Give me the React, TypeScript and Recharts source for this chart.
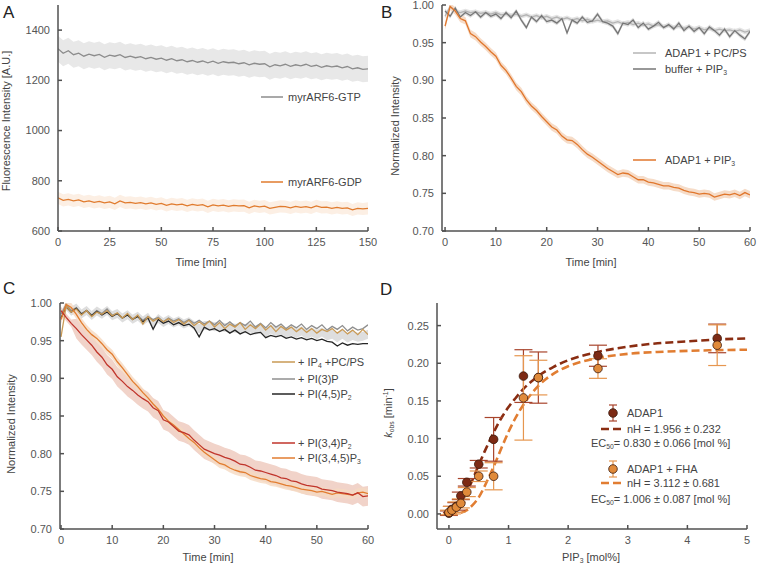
import React from 'react';
import { ComposedChart, Line, Area, Scatter, ErrorBar, XAxis, YAxis } from 'recharts';

const FONT = '"Liberation Sans", Arial, Helvetica, sans-serif';
const AXIS = '#505050';
const TICK_TEXT = '#555';

// ---------- panel A (0..150 min, every 2.5 min) ----------
const timesA = [0, 2.5, 5, 7.5, 10, 12.5, 15, 17.5, 20, 22.5, 25, 27.5, 30, 32.5, 35, 37.5, 40, 42.5, 45, 47.5, 50, 52.5, 55, 57.5, 60, 62.5, 65, 67.5, 70, 72.5, 75, 77.5, 80, 82.5, 85, 87.5, 90, 92.5, 95, 97.5, 100, 102.5, 105, 107.5, 110, 112.5, 115, 117.5, 120, 122.5, 125, 127.5, 130, 132.5, 135, 137.5, 140, 142.5, 145, 147.5, 150];
const gtp = [1326, 1308, 1318, 1302, 1308, 1296, 1304, 1298, 1303, 1292, 1300, 1296, 1302, 1291, 1296, 1290, 1294, 1286, 1291, 1284, 1288, 1280, 1286, 1278, 1282, 1274, 1279, 1272, 1277, 1270, 1276, 1268, 1274, 1270, 1272, 1266, 1270, 1262, 1268, 1264, 1266, 1254, 1262, 1258, 1264, 1256, 1262, 1258, 1264, 1256, 1260, 1252, 1258, 1254, 1257, 1250, 1255, 1246, 1250, 1244, 1246];
const gdp = [732, 722, 726, 720, 724, 716, 720, 714, 718, 712, 716, 708, 720, 712, 714, 710, 713, 708, 712, 706, 710, 702, 708, 704, 707, 700, 706, 702, 705, 696, 704, 700, 703, 698, 702, 700, 701, 692, 700, 696, 699, 690, 694, 698, 697, 692, 698, 694, 697, 692, 700, 694, 695, 690, 694, 690, 692, 684, 690, 688, 690];
const gtpSd = 52;
const gdpSd = 24;

// ---------- panels B and C (0..60 min, every minute) ----------
const minutes = [0, 1, 2, 3, 4, 5, 6, 7, 8, 9, 10, 11, 12, 13, 14, 15, 16, 17, 18, 19, 20, 21, 22, 23, 24, 25, 26, 27, 28, 29, 30, 31, 32, 33, 34, 35, 36, 37, 38, 39, 40, 41, 42, 43, 44, 45, 46, 47, 48, 49, 50, 51, 52, 53, 54, 55, 56, 57, 58, 59, 60];

const bPcps = [0.985, 0.998, 0.992, 0.990, 0.992, 0.990, 0.991, 0.989, 0.990, 0.988, 0.990, 0.987, 0.988, 0.986, 0.988, 0.985, 0.987, 0.984, 0.986, 0.983, 0.985, 0.982, 0.984, 0.981, 0.983, 0.980, 0.982, 0.979, 0.981, 0.978, 0.980, 0.978, 0.979, 0.976, 0.978, 0.975, 0.977, 0.974, 0.976, 0.973, 0.975, 0.972, 0.974, 0.971, 0.973, 0.970, 0.972, 0.969, 0.971, 0.968, 0.970, 0.967, 0.969, 0.966, 0.968, 0.966, 0.967, 0.965, 0.967, 0.964, 0.966];
const bBuffer = [0.992, 0.985, 0.996, 0.984, 0.990, 0.986, 0.991, 0.984, 0.990, 0.985, 0.988, 0.982, 0.990, 0.983, 0.992, 0.980, 0.970, 0.984, 0.978, 0.986, 0.978, 0.980, 0.976, 0.982, 0.963, 0.980, 0.976, 0.984, 0.977, 0.979, 0.988, 0.978, 0.976, 0.972, 0.962, 0.976, 0.974, 0.980, 0.970, 0.976, 0.968, 0.972, 0.977, 0.970, 0.974, 0.968, 0.976, 0.966, 0.972, 0.965, 0.970, 0.962, 0.971, 0.966, 0.960, 0.968, 0.958, 0.966, 0.960, 0.955, 0.965];
const bPip3 = [0.972, 0.998, 0.992, 0.982, 0.979, 0.962, 0.958, 0.951, 0.945, 0.938, 0.932, 0.920, 0.913, 0.903, 0.892, 0.885, 0.874, 0.866, 0.860, 0.852, 0.845, 0.838, 0.834, 0.826, 0.821, 0.820, 0.815, 0.808, 0.802, 0.798, 0.793, 0.788, 0.783, 0.779, 0.775, 0.777, 0.776, 0.772, 0.768, 0.768, 0.765, 0.764, 0.762, 0.760, 0.760, 0.758, 0.757, 0.754, 0.752, 0.751, 0.749, 0.750, 0.749, 0.745, 0.747, 0.749, 0.748, 0.750, 0.747, 0.751, 0.748];

const cIp4 = [0.955, 0.996, 0.988, 0.992, 0.984, 0.990, 0.982, 0.988, 0.985, 0.990, 0.983, 0.987, 0.980, 0.986, 0.978, 0.984, 0.972, 0.982, 0.976, 0.980, 0.975, 0.979, 0.974, 0.978, 0.972, 0.977, 0.970, 0.975, 0.970, 0.976, 0.968, 0.974, 0.966, 0.972, 0.968, 0.974, 0.965, 0.971, 0.966, 0.972, 0.964, 0.970, 0.962, 0.969, 0.964, 0.968, 0.962, 0.967, 0.961, 0.966, 0.960, 0.965, 0.962, 0.966, 0.960, 0.965, 0.959, 0.964, 0.958, 0.965, 0.958];
const cPi3p = [0.985, 0.998, 0.990, 0.994, 0.986, 0.990, 0.984, 0.990, 0.986, 0.992, 0.984, 0.986, 0.980, 0.985, 0.979, 0.983, 0.977, 0.982, 0.978, 0.981, 0.975, 0.980, 0.976, 0.979, 0.974, 0.978, 0.973, 0.977, 0.972, 0.976, 0.971, 0.977, 0.970, 0.975, 0.969, 0.974, 0.970, 0.976, 0.968, 0.973, 0.967, 0.974, 0.968, 0.972, 0.966, 0.971, 0.967, 0.972, 0.965, 0.970, 0.966, 0.971, 0.964, 0.969, 0.965, 0.970, 0.963, 0.968, 0.964, 0.966, 0.971];
const cPi45 = [0.980, 0.995, 0.988, 0.993, 0.985, 0.990, 0.983, 0.989, 0.984, 0.988, 0.982, 0.986, 0.980, 0.984, 0.978, 0.982, 0.975, 0.980, 0.965, 0.978, 0.973, 0.976, 0.971, 0.974, 0.970, 0.972, 0.967, 0.955, 0.968, 0.964, 0.966, 0.962, 0.965, 0.960, 0.964, 0.959, 0.962, 0.958, 0.960, 0.961, 0.954, 0.957, 0.955, 0.957, 0.953, 0.955, 0.952, 0.954, 0.951, 0.953, 0.950, 0.952, 0.949, 0.948, 0.943, 0.947, 0.944, 0.946, 0.945, 0.946, 0.946];
const cPi34 = [0.990, 0.981, 0.973, 0.966, 0.958, 0.951, 0.944, 0.935, 0.928, 0.918, 0.912, 0.902, 0.896, 0.889, 0.884, 0.878, 0.873, 0.869, 0.861, 0.857, 0.845, 0.842, 0.836, 0.830, 0.828, 0.825, 0.818, 0.812, 0.806, 0.803, 0.800, 0.798, 0.795, 0.793, 0.790, 0.786, 0.785, 0.782, 0.778, 0.777, 0.775, 0.773, 0.771, 0.768, 0.767, 0.764, 0.763, 0.760, 0.758, 0.757, 0.756, 0.753, 0.752, 0.751, 0.749, 0.748, 0.747, 0.745, 0.748, 0.743, 0.744];
const cPip3 = [0.978, 0.998, 0.994, 0.985, 0.974, 0.965, 0.958, 0.953, 0.946, 0.938, 0.932, 0.922, 0.914, 0.905, 0.896, 0.889, 0.881, 0.874, 0.866, 0.859, 0.850, 0.843, 0.838, 0.832, 0.826, 0.820, 0.815, 0.808, 0.802, 0.797, 0.792, 0.787, 0.785, 0.781, 0.778, 0.776, 0.775, 0.771, 0.769, 0.767, 0.766, 0.763, 0.762, 0.760, 0.758, 0.757, 0.755, 0.753, 0.752, 0.751, 0.749, 0.750, 0.748, 0.746, 0.748, 0.747, 0.746, 0.745, 0.748, 0.749, 0.747];

// ---------- panel D ----------
const pipMol = [0, 0.05, 0.125, 0.2, 0.3, 0.5, 0.75, 1.25, 1.5, 2.5, 4.5];
const kAdap1 = [0.001, 0.006, 0.010, 0.024, 0.042, 0.066, 0.099, 0.183, 0.181, 0.210, 0.233];
const errAdap1 = [0.003, 0.004, 0.005, 0.005, 0.005, 0.005, 0.029, 0.035, 0.034, 0.014, 0.019];
const kFha = [0.002, 0.005, 0.009, 0.014, 0.029, 0.050, 0.050, 0.154, 0.181, 0.193, 0.224];
const errFha = [0.003, 0.005, 0.007, 0.006, 0.006, 0.007, 0.018, 0.056, 0.023, 0.013, 0.027];
const fitX = [0, 0.1, 0.2, 0.3, 0.4, 0.5, 0.6, 0.7, 0.8, 0.9, 1.0, 1.1, 1.25, 1.5, 1.75, 2, 2.5, 3, 3.5, 4, 4.5, 5];
const fitAdap1 = [0, 0.004, 0.014, 0.029, 0.046, 0.065, 0.083, 0.100, 0.116, 0.130, 0.142, 0.152, 0.166, 0.183, 0.195, 0.204, 0.215, 0.222, 0.2265, 0.229, 0.2315, 0.233];
const fitFha = [0, 0.0002, 0.0014, 0.005, 0.012, 0.022, 0.037, 0.054, 0.072, 0.091, 0.109, 0.125, 0.145, 0.170, 0.186, 0.196, 0.207, 0.2125, 0.215, 0.2165, 0.2174, 0.218];

const band = (v: number, sd: number) => [v - sd, v + sd];

const rowsA = timesA.map((t, i) => ({
  t, gtp: gtp[i], gdp: gdp[i],
  gtpBand: band(gtp[i], gtpSd), gdpBand: band(gdp[i], gdpSd),
}));
const rowsB = minutes.map((t, i) => ({
  t, pcps: bPcps[i], buffer: bBuffer[i], pip3: bPip3[i],
  pcpsBand: band(bPcps[i], 0.003), bufferBand: band(bBuffer[i], 0.003), pip3Band: band(bPip3[i], 0.005),
}));
const rowsC = minutes.map((t, i) => ({
  t, ip4: cIp4[i], pi3p: cPi3p[i], pi45: cPi45[i], pi34: cPi34[i], pip3: cPip3[i],
  greyBand: band((cPi3p[i] + cPi45[i]) / 2, 0.006),
  pi34Band: band(cPi34[i], i < 3 ? 0.005 : 0.013), pip3Band: band(cPip3[i], 0.006),
}));
const ptsAdap1 = pipMol.map((x, i) => ({ x, y: kAdap1[i], err: errAdap1[i] }));
const ptsFha = pipMol.map((x, i) => ({ x, y: kFha[i], err: errFha[i] }));
const curveAdap1 = fitX.map((x, i) => ({ x, y: fitAdap1[i] }));
const curveFha = fitX.map((x, i) => ({ x, y: fitFha[i] }));

const tickStyle = { fill: TICK_TEXT, fontSize: 11, fontFamily: FONT };
const axisCommon = {
  stroke: AXIS,
  strokeWidth: 1.5,
  tickSize: -4,
  tick: tickStyle,
  interval: 0 as const,
  allowDataOverflow: true,
};
const f2 = (v: number) => v.toFixed(2);

const Sub = ({ children }: { children: React.ReactNode }) => (
  <sub style={{ fontSize: '0.62em', verticalAlign: '-0.35em', lineHeight: 0 }}>{children}</sub>
);
const Sup = ({ children }: { children: React.ReactNode }) => (
  <sup style={{ fontSize: '0.62em', verticalAlign: '0.5em', lineHeight: 0 }}>{children}</sup>
);

function T({ x, y, c = 'l', rot = false, size = 11, color = '#444', children }: any) {
  const tx = c === 'l' ? '0' : '-50%';
  return (
    <div style={{
      position: 'absolute', left: x, top: y, whiteSpace: 'nowrap', lineHeight: 1,
      fontSize: size, color, transform: `translate(${tx},-50%)${rot ? ' rotate(-90deg)' : ''}`,
    }}>{children}</div>
  );
}

function Swatch({ x1, x2, y, color, dash, width = 1.5 }: any) {
  return (
    <svg style={{ position: 'absolute', left: x1, top: y - 3 }} width={x2 - x1} height={6}>
      <line x1={0} y1={3} x2={x2 - x1} y2={3} stroke={color} strokeWidth={width} strokeDasharray={dash} />
    </svg>
  );
}

function PointKey({ x, y, fill, bar }: any) {
  return (
    <svg style={{ position: 'absolute', left: x - 7, top: y - 9 }} width={14} height={18}>
      <line x1={7} y1={1} x2={7} y2={17} stroke={bar} strokeWidth={1.2} />
      <line x1={3} y1={1} x2={11} y2={1} stroke={bar} strokeWidth={1.2} />
      <line x1={3} y1={17} x2={11} y2={17} stroke={bar} strokeWidth={1.2} />
      <circle cx={7} cy={9} r={4.3} fill={fill} stroke="#3b1a0e" strokeWidth={0.8} />
    </svg>
  );
}

const dot = (fill: string) => (p: any) => (
  <circle cx={p.cx} cy={p.cy} r={4.3} fill={fill} stroke="#3b1a0e" strokeWidth={0.8} />
);

const lineProps = { dot: false, isAnimationActive: false, type: 'linear' as const, strokeWidth: 1.3 };
const areaProps = { stroke: 'none', fillOpacity: 1, isAnimationActive: false, type: 'linear' as const };

export default function App() {
  return (
    <div style={{ position: 'absolute', left: 0, top: 0, width: 757, height: 568, background: '#fff', fontFamily: FONT, color: '#444' }}>
      {/* A */}
      <div style={{ position: 'absolute', left: 0, top: 0 }}>
        <ComposedChart width={378} height={280} data={rowsA} margin={{ top: 5, right: 10, left: 0, bottom: 0 }}>
          <XAxis {...axisCommon} dataKey="t" type="number" domain={[0, 150]} ticks={[0, 25, 50, 75, 100, 125, 150]} height={49} tickMargin={11} />
          <YAxis {...axisCommon} type="number" domain={[600, 1500]} ticks={[600, 800, 1000, 1200, 1400]} width={58} tickMargin={12} />
          <Area {...areaProps} dataKey="gtpBand" fill="#e8e8e8" />
          <Area {...areaProps} dataKey="gdpBand" fill="#fcefe4" />
          <Line {...lineProps} dataKey="gtp" stroke="#8c8c8c" />
          <Line {...lineProps} dataKey="gdp" stroke="#e07b2e" />
        </ComposedChart>
      </div>

      {/* B */}
      <div style={{ position: 'absolute', left: 378, top: 0 }}>
        <ComposedChart width={379} height={280} data={rowsB} margin={{ top: 5, right: 7, left: 0, bottom: 0 }}>
          <XAxis {...axisCommon} dataKey="t" type="number" domain={[-0.6, 60]} ticks={[0, 10, 20, 30, 40, 50, 60]} height={49} tickMargin={11} />
          <YAxis {...axisCommon} type="number" domain={[0.7, 1.0]} ticks={[0.7, 0.75, 0.8, 0.85, 0.9, 0.95, 1.0]} tickFormatter={f2} width={64} tickMargin={12} />
          <Area {...areaProps} dataKey="pcpsBand" fill="#e4e4e4" />
          <Area {...areaProps} dataKey="bufferBand" fill="#dcdcdc" />
          <Area {...areaProps} dataKey="pip3Band" fill="#f6dcc8" />
          <Line {...lineProps} dataKey="pcps" stroke="#b4b4b4" />
          <Line {...lineProps} dataKey="buffer" stroke="#767676" />
          <Line {...lineProps} dataKey="pip3" stroke="#e0762c" />
        </ComposedChart>
      </div>

      {/* C */}
      <div style={{ position: 'absolute', left: 0, top: 280 }}>
        <ComposedChart width={378} height={288} data={rowsC} margin={{ top: 23, right: 10, left: 0, bottom: 0 }}>
          <XAxis {...axisCommon} dataKey="t" type="number" domain={[-0.2, 60]} ticks={[0, 10, 20, 30, 40, 50, 60]} height={39} tickMargin={11} />
          <YAxis {...axisCommon} type="number" domain={[0.7, 1.0]} ticks={[0.7, 0.75, 0.8, 0.85, 0.9, 0.95, 1.0]} tickFormatter={f2} width={60} tickMargin={12} />
          <Area {...areaProps} dataKey="greyBand" fill="#dedede" />
          <Area {...areaProps} dataKey="pi34Band" fill="#f1d3c9" />
          <Area {...areaProps} dataKey="pip3Band" fill="#f5d9c2" fillOpacity={0.8} />
          <Line {...lineProps} dataKey="pi3p" stroke="#8f8f8f" />
          <Line {...lineProps} dataKey="pi45" stroke="#262626" />
          <Line {...lineProps} dataKey="ip4" stroke="#c99a55" />
          <Line {...lineProps} dataKey="pip3" stroke="#e27d30" />
          <Line {...lineProps} dataKey="pi34" stroke="#c0352b" />
        </ComposedChart>
      </div>

      {/* D */}
      <div style={{ position: 'absolute', left: 378, top: 280 }}>
        <ComposedChart width={379} height={288} margin={{ top: 23, right: 10, left: 0, bottom: 0 }}>
          <XAxis {...axisCommon} dataKey="x" type="number" domain={[-0.2, 5]} ticks={[0, 1, 2, 3, 4, 5]} height={39} tickMargin={11} />
          <YAxis {...axisCommon} dataKey="y" type="number" domain={[-0.02, 0.28]} ticks={[0, 0.05, 0.1, 0.15, 0.2, 0.25]} tickFormatter={f2} width={59} tickMargin={12} />
          <Line data={curveAdap1} dataKey="y" type="monotone" dot={false} isAnimationActive={false} stroke="#8a2d12" strokeWidth={2.6} strokeDasharray="8 4" />
          <Line data={curveFha} dataKey="y" type="monotone" dot={false} isAnimationActive={false} stroke="#e17d32" strokeWidth={2.6} strokeDasharray="8 4" />
          <Scatter data={ptsAdap1} dataKey="y" isAnimationActive={false} shape={dot('#7d2a14')}>
            <ErrorBar dataKey="err" direction="y" width={9} stroke="#a8442c" strokeWidth={1.2} />
          </Scatter>
          <Scatter data={ptsFha} dataKey="y" isAnimationActive={false} shape={dot('#e08a3a')}>
            <ErrorBar dataKey="err" direction="y" width={9} stroke="#e6964f" strokeWidth={1.2} />
          </Scatter>
        </ComposedChart>
      </div>

      {/* panel letters */}
      <T x={3} y={12} size={17} color="#222">A</T>
      <T x={381} y={12} size={17} color="#222">B</T>
      <T x={3} y={288} size={17} color="#222">C</T>
      <T x={380} y={289} size={17} color="#222">D</T>

      {/* axis titles */}
      <T x={6} y={121} c="c" rot>Fluorescence Intensity [A.U.]</T>
      <T x={201} y={262} c="c">Time [min]</T>
      <T x={395} y={126} c="c" rot>Normalized Intensity</T>
      <T x={591} y={262} c="c">Time [min]</T>
      <T x={11} y={424} c="c" rot>Normalized Intensity</T>
      <T x={208} y={557} c="c">Time [min]</T>
      <T x={388} y={413} c="c" rot><i>k</i><Sub>obs</Sub> [min<Sup>-1</Sup>]</T>
      <T x={591} y={557} c="c">PIP<Sub>3</Sub> [mol%]</T>

      {/* legend A */}
      <Swatch x1={261} x2={283} y={97} color="#8c8c8c" />
      <T x={288} y={97}>myrARF6-GTP</T>
      <Swatch x1={261} x2={283} y={182} color="#e07b2e" />
      <T x={288} y={182}>myrARF6-GDP</T>

      {/* legend B */}
      <Swatch x1={633} x2={656} y={53} color="#b4b4b4" />
      <T x={665} y={53}>ADAP1 + PC/PS</T>
      <Swatch x1={633} x2={656} y={69} color="#767676" />
      <T x={665} y={69}>buffer + PIP<Sub>3</Sub></T>
      <Swatch x1={633} x2={656} y={160} color="#e0762c" />
      <T x={665} y={160}>ADAP1 + PIP<Sub>3</Sub></T>

      {/* legend C */}
      <Swatch x1={272} x2={295} y={362} color="#c99a55" />
      <T x={298} y={362}>+ IP<Sub>4</Sub> +PC/PS</T>
      <Swatch x1={272} x2={295} y={379} color="#8f8f8f" />
      <T x={298} y={379}>+ PI(3)P</T>
      <Swatch x1={272} x2={295} y={394} color="#262626" />
      <T x={298} y={394}>+ PI(4,5)P<Sub>2</Sub></T>
      <Swatch x1={272} x2={295} y={443} color="#c0352b" />
      <T x={298} y={443}>+ PI(3,4)P<Sub>2</Sub></T>
      <Swatch x1={272} x2={295} y={458} color="#e27d30" />
      <T x={298} y={458}>+ PI(3,4,5)P<Sub>3</Sub></T>

      {/* legend D */}
      <PointKey x={613} y={413} fill="#7d2a14" bar="#a8442c" />
      <T x={627} y={413}>ADAP1</T>
      <Swatch x1={601} x2={625} y={429} color="#8a2d12" dash="8 4" width={2.6} />
      <T x={627} y={429}>nH = 1.956 ± 0.232</T>
      <T x={591} y={443}>EC<Sub>50</Sub>= 0.830 ± 0.066 [mol %]</T>
      <PointKey x={613} y={469} fill="#e08a3a" bar="#e6964f" />
      <T x={627} y={469}>ADAP1 + FHA</T>
      <Swatch x1={601} x2={625} y={483} color="#e17d32" dash="8 4" width={2.6} />
      <T x={627} y={483}>nH = 3.112 ± 0.681</T>
      <T x={591} y={499}>EC<Sub>50</Sub>= 1.006 ± 0.087 [mol %]</T>
    </div>
  );
}
